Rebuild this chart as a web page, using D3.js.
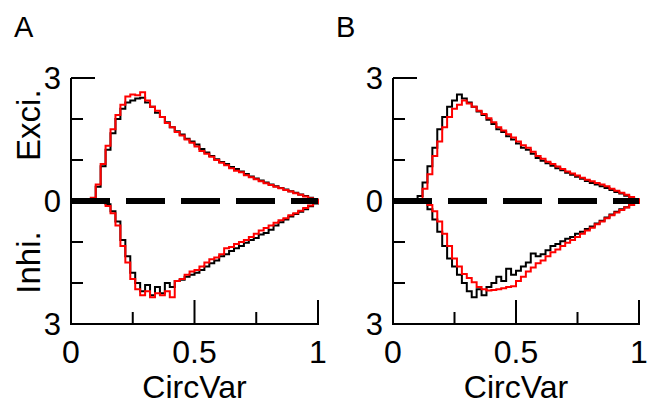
<!DOCTYPE html>
<html lang="en">
<head>
<meta charset="UTF-8">
<title>CircVar histograms</title>
<script src="https://d3js.org/d3.v7.min.js"></script>
<style>
  body { margin: 0; background: white; }
  svg text { font-family: "Liberation Sans", Arial, sans-serif; fill: black; }
</style>
</head>
<body>
<svg width="655" height="406"></svg>
<script>
// bin starts 0.00, 0.02, ... 0.98 (bin width 0.02)
var binWidth = 0.02;
var xTicksMajor = [0, 0.5, 1];
var xTicksMinor = [0.25, 0.75];
var xTickLabels = ["0", "0.5", "1"];
var yTicksMajor = [3, 0];
var yTicksMinor = [2, 1, -1, -2];
var yTickLabels = [{v: 3, t: "3"}, {v: 0, t: "0"}, {v: -3, t: "3"}];

var excA_black = [0,0,0,0,0.05,0.35,0.85,1.25,1.65,2.0,2.25,2.4,2.45,2.5,2.52,2.4,2.3,2.15,2.05,1.92,
  1.8,1.7,1.62,1.52,1.45,1.38,1.27,1.18,1.1,1.02,0.95,0.9,0.83,0.78,0.72,0.66,0.6,0.55,0.5,0.45,
  0.4,0.36,0.32,0.28,0.24,0.2,0.16,0.12,0.08,0.03];
var excA_red = [0,0,0,0,0.08,0.4,0.9,1.35,1.75,2.1,2.35,2.55,2.6,2.58,2.65,2.45,2.3,2.2,2.05,1.9,
  1.8,1.68,1.6,1.5,1.42,1.33,1.22,1.15,1.08,1.0,0.93,0.87,0.8,0.74,0.7,0.63,0.58,0.53,0.48,0.43,
  0.39,0.35,0.31,0.27,0.23,0.19,0.15,0.11,0.07,0.03];
var inhA_black = [0,0,0,0,0,0,0,-0.08,-0.25,-0.5,-0.95,-1.35,-1.75,-2.0,-2.2,-2.05,-2.3,-2.1,-2.25,-2.0,
  -2.1,-1.95,-1.92,-1.85,-1.8,-1.75,-1.68,-1.6,-1.52,-1.45,-1.35,-1.3,-1.22,-1.15,-1.1,-1.02,-0.95,-0.9,-0.82,-0.78,
  -0.7,-0.6,-0.52,-0.45,-0.38,-0.32,-0.26,-0.2,-0.13,-0.06];
var inhA_red = [0,0,0,0,0,0,-0.02,-0.12,-0.3,-0.6,-1.1,-1.5,-1.9,-2.15,-2.3,-2.2,-2.35,-2.25,-2.3,-2.2,
  -2.35,-1.95,-1.9,-1.8,-1.72,-1.68,-1.6,-1.5,-1.42,-1.38,-1.3,-1.15,-1.12,-1.05,-1.0,-0.95,-0.88,-0.8,-0.72,-0.66,
  -0.6,-0.53,-0.47,-0.42,-0.35,-0.3,-0.24,-0.17,-0.11,-0.05];

var excB_black = [0,0,0,0,0,0.12,0.45,0.85,1.3,1.75,2.05,2.3,2.45,2.6,2.5,2.4,2.3,2.18,2.1,1.98,
  1.88,1.75,1.68,1.58,1.5,1.4,1.3,1.25,1.15,1.05,0.98,0.92,0.86,0.8,0.75,0.69,0.64,0.59,0.54,0.49,
  0.44,0.4,0.36,0.32,0.27,0.22,0.18,0.13,0.08,0.03];
var excB_red = [0,0,0,0,0,0.05,0.3,0.65,1.1,1.45,1.8,2.05,2.25,2.35,2.45,2.38,2.3,2.2,2.12,2.02,
  1.92,1.8,1.72,1.63,1.55,1.45,1.36,1.3,1.2,1.1,1.03,0.96,0.9,0.84,0.78,0.72,0.67,0.62,0.57,0.52,
  0.48,0.44,0.4,0.36,0.3,0.25,0.2,0.15,0.1,0.04];
var inhB_black = [0,0,0,0,0,0,-0.05,-0.2,-0.45,-0.75,-1.1,-1.4,-1.6,-1.8,-2.0,-2.2,-2.35,-2.15,-2.3,-2.1,
  -2.0,-1.85,-1.95,-1.65,-1.8,-1.7,-1.6,-1.5,-1.28,-1.35,-1.3,-1.2,-1.1,-1.05,-0.98,-0.92,-0.88,-0.8,-0.75,-0.68,
  -0.62,-0.55,-0.48,-0.4,-0.33,-0.26,-0.2,-0.15,-0.1,-0.05];
var inhB_red = [0,0,0,0,0,0,-0.02,-0.1,-0.25,-0.5,-0.8,-1.1,-1.4,-1.6,-1.78,-1.88,-1.98,-2.1,-2.15,-2.18,
  -2.17,-2.15,-2.13,-2.1,-2.08,-1.95,-1.85,-1.72,-1.62,-1.52,-1.45,-1.35,-1.25,-1.18,-1.1,-1.02,-0.95,-0.88,-0.8,-0.72,
  -0.65,-0.57,-0.5,-0.42,-0.35,-0.28,-0.22,-0.16,-0.1,-0.05];

var panels = [
  {label: "A", left: 71, right: 318, titles: true,
   series: [excA_black, inhA_black, excA_red, inhA_red]},
  {label: "B", left: 393, right: 639, titles: false,
   series: [excB_black, inhB_black, excB_red, inhB_red]}
];
var colors = ["black", "black", "red", "red"];
var top_ = 78, bottom = 324;

var svg = d3.select("svg");

panels.forEach(function(p) {
  var x = d3.scaleLinear().domain([0, 1]).range([p.left, p.right]);
  var y = d3.scaleLinear().domain([-3, 3]).range([bottom, top_]);
  var g = svg.append("g");

  // axes lines
  g.append("line").attr("x1", x(0)).attr("x2", x(0)).attr("y1", y(3)).attr("y2", y(-3))
    .attr("stroke", "black").attr("stroke-width", 2);
  g.append("line").attr("x1", x(0) - 1).attr("x2", x(1) + 1).attr("y1", y(-3)).attr("y2", y(-3))
    .attr("stroke", "black").attr("stroke-width", 2);

  // y ticks
  yTicksMajor.forEach(function(v) {
    g.append("line").attr("x1", x(0)).attr("x2", x(0) + 24).attr("y1", y(v)).attr("y2", y(v))
      .attr("stroke", "black").attr("stroke-width", 2);
  });
  yTicksMinor.forEach(function(v) {
    g.append("line").attr("x1", x(0)).attr("x2", x(0) + 12).attr("y1", y(v)).attr("y2", y(v))
      .attr("stroke", "black").attr("stroke-width", 2);
  });
  // x ticks
  xTicksMajor.forEach(function(v) {
    g.append("line").attr("x1", x(v)).attr("x2", x(v)).attr("y1", y(-3)).attr("y2", y(-3) - 24)
      .attr("stroke", "black").attr("stroke-width", 2);
  });
  xTicksMinor.forEach(function(v) {
    g.append("line").attr("x1", x(v)).attr("x2", x(v)).attr("y1", y(-3)).attr("y2", y(-3) - 12)
      .attr("stroke", "black").attr("stroke-width", 2);
  });

  // tick labels
  yTickLabels.forEach(function(d) {
    g.append("text").attr("x", x(0) - 10).attr("y", y(d.v) + 11)
      .attr("text-anchor", "end").attr("font-size", 31).text(d.t);
  });
  xTicksMajor.forEach(function(v, i) {
    g.append("text").attr("x", x(v)).attr("y", 363)
      .attr("text-anchor", "middle").attr("font-size", 32).text(xTickLabels[i]);
  });
  g.append("text").attr("x", (x(0) + x(1)) / 2).attr("y", 398)
    .attr("text-anchor", "middle").attr("font-size", 32).text("CircVar");

  if (p.titles) {
    g.append("text").attr("transform", "translate(40," + y(1.85) + ") rotate(-90)")
      .attr("text-anchor", "middle").attr("font-size", 33).text("Exci.");
    g.append("text").attr("transform", "translate(40," + y(-1.5) + ") rotate(-90)")
      .attr("text-anchor", "middle").attr("font-size", 33).text("Inhi.");
  }

  g.append("text").attr("x", p.left - 57).attr("y", 37)
    .attr("font-size", 29).text(p.label);

  // histograms
  var line = d3.line()
    .x(function(d) { return x(d[0]); })
    .y(function(d) { return y(d[1]); })
    .curve(d3.curveStepAfter);
  p.series.forEach(function(s, k) {
    var pts = s.map(function(v, i) { return [i * binWidth, v]; });
    pts.push([1, s[s.length - 1]]);
    pts.push([1, 0]);
    g.append("path").datum(pts).attr("d", line)
      .attr("fill", "none").attr("stroke", colors[k]).attr("stroke-width", 2);
  });

  // dashed zero line
  g.append("line").attr("x1", x(0)).attr("x2", x(1)).attr("y1", y(0)).attr("y2", y(0))
    .attr("stroke", "black").attr("stroke-width", 6).attr("stroke-dasharray", "39,16");
});
</script>
</body>
</html>
